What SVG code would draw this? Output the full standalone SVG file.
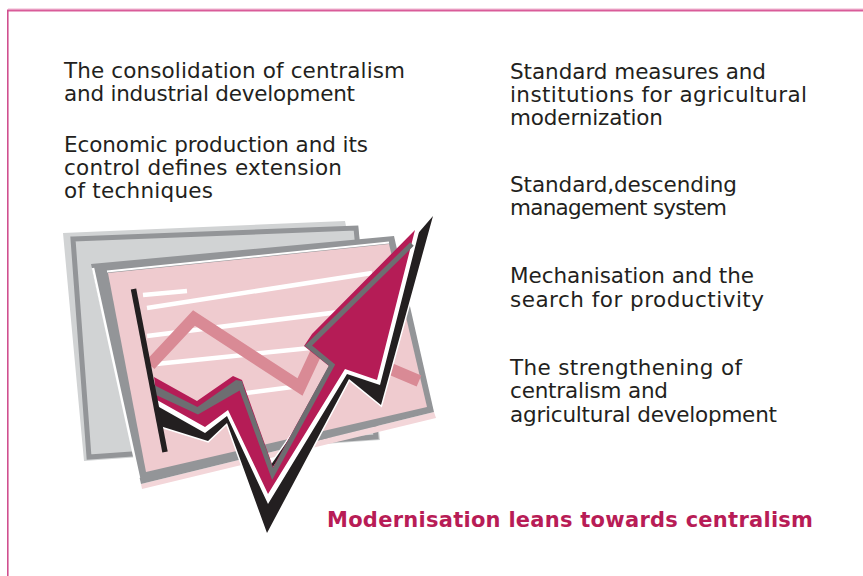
<svg xmlns="http://www.w3.org/2000/svg" width="863" height="576" viewBox="0 0 863 576">
<style>
.t{font-family:"DejaVu Sans","Liberation Sans",sans-serif;font-size:21.5px;fill:#231f20}
.ttl{font-family:"DejaVu Sans","Liberation Sans",sans-serif;font-size:21px;font-weight:bold;fill:#b81c56}
.wl{stroke:#ffffff;stroke-width:4.5;fill:none}
</style>
<rect width="863" height="576" fill="#ffffff"/>
<g id="frame">
<line x1="8" y1="9" x2="863" y2="9" stroke="#eeb3cf" stroke-width="1"/>
<line x1="7" y1="10.5" x2="863" y2="10.5" stroke="#d95c99" stroke-width="2"/>
<line x1="7.8" y1="10" x2="7.8" y2="576" stroke="#d04f8f" stroke-width="1.6"/>
</g>
<g id="chart-art">
<g id="back-sheet">
<polygon points="63,233 345,221 346,226 358,226 380,440 84,461" fill="#d1d3d4"/>
<polygon points="73,239 356,228 376,437 89,457" fill="none" stroke="#939598" stroke-width="5"/>
</g>
<g id="front-sheet">
<polygon points="141,484 434,412 436,418 142,489" fill="#f3d6d9"/>
<polygon points="91,264 394,236 434,412 141,484" fill="#939598"/>
<line x1="93" y1="268" x2="139" y2="478" stroke="#ffffff" stroke-width="2.5"/>
<polygon points="108,273 389,244 427,407 146,472" fill="#efcbcf"/>
<line x1="107" y1="271.5" x2="389" y2="242.5" stroke="#ffffff" stroke-width="2"/>
<line class="wl" x1="143" y1="295" x2="187" y2="291"/>
<line class="wl" x1="147" y1="308" x2="372" y2="273"/>
<line class="wl" x1="147" y1="336" x2="387" y2="306"/>
<line class="wl" x1="156" y1="364" x2="330" y2="346"/>
<line class="wl" x1="215" y1="397" x2="300" y2="386"/>
<polyline points="150,365 194,318 300,387 322,340 419,381" fill="none" stroke="#d98a95" stroke-width="12" stroke-linejoin="miter" stroke-miterlimit="6"/>
</g>
<g id="arrow">
<polygon points="433,216 381,405 349,379 267,533 227,423 208,441 160,426 158,410 162,395 200,413 232,392 266,472 330,380 340,330 414,238" fill="#231f20" stroke="#ffffff" stroke-width="3" stroke-linejoin="miter" paint-order="stroke"/>
<polygon points="421,224 380,385 347,374 268,504 227,416 205,433 159,407 156,385 198,405 234,382 268,474 336,376 322,346 410,240" fill="#ffffff"/>
<polygon points="154,377 197,401 233,376 242,380 273,467 329,366 304,346 312,334 415,230 377,380 345,369 268,494 228,410 205,427 157,400" fill="#b51c56"/>
<polygon points="155,385.5 197.5,407 236,380 242,381 244,388 198,414.5 155,394.5" fill="#6d6e71"/>
<polyline points="239.5,383 272.6,474 332,365 308.4,345.6 412,244" fill="none" stroke="#6d6e71" stroke-width="5" stroke-linejoin="miter" stroke-miterlimit="8"/>
</g>
<line id="axis" x1="133.5" y1="289" x2="165" y2="452" stroke="#231f20" stroke-width="5.5"/>
</g>
<g id="item-consolidation">
<text class="t" x="64" y="78" textLength="341">The consolidation of centralism</text>
<text class="t" x="64" y="101" textLength="291">and industrial development</text>
</g>
<g id="item-economic">
<text class="t" x="64" y="151.5" textLength="304">Economic production and its</text>
<text class="t" x="64" y="175" textLength="278">control defines extension</text>
<text class="t" x="64" y="198" textLength="149">of techniques</text>
</g>
<g id="item-standard-measures">
<text class="t" x="510" y="78.5" textLength="256">Standard measures and</text>
<text class="t" x="510" y="101.5" textLength="297">institutions for agricultural</text>
<text class="t" x="510" y="124.5" textLength="153">modernization</text>
</g>
<g id="item-management">
<text class="t" x="510" y="192" textLength="227">Standard,descending</text>
<text class="t" x="510" y="215" textLength="217">management system</text>
</g>
<g id="item-mechanisation">
<text class="t" x="510" y="283" textLength="244">Mechanisation and the</text>
<text class="t" x="510" y="306.5" textLength="254">search for productivity</text>
</g>
<g id="item-strengthening">
<text class="t" x="510" y="375" textLength="232">The strengthening of</text>
<text class="t" x="510" y="398" textLength="158">centralism and</text>
<text class="t" x="510" y="421.5" textLength="267">agricultural development</text>
</g>
<g id="title">
<text class="ttl" x="327" y="527" textLength="486">Modernisation leans towards centralism</text>
</g>
</svg>
